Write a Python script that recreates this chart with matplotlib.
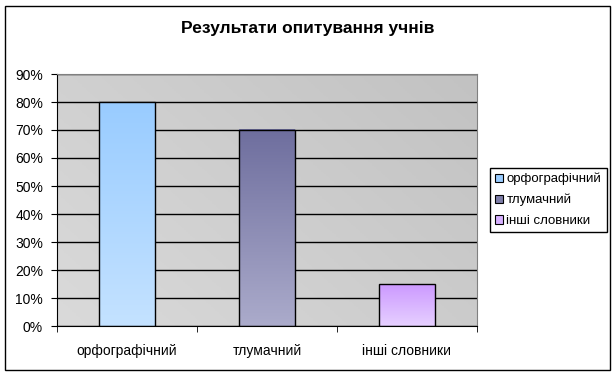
import numpy as np
import matplotlib.pyplot as plt
from matplotlib.patches import Patch, Rectangle
from matplotlib.colors import LinearSegmentedColormap

plt.rcParams['font.family'] = ['Liberation Sans', 'DejaVu Sans']

categories = ['орфографічний', 'тлумачний', 'інші словники']
values = [80, 70, 15]
title = 'Результати опитування учнів'

# gradient (top colour, bottom colour) and legend colour for each bar
grad = [('#99ccff', '#c4e2ff'), ('#6e6e9e', '#ababcb'), ('#cc99ff', '#e6d0ff')]
legend_cols = ['#99ccff', '#7d7da8', '#d6b0ff']

fig = plt.figure(figsize=(6.16, 3.76), dpi=100)
fig.patches.append(Rectangle((5 / 616, 6 / 376), 605 / 616, 364 / 376,
                             transform=fig.transFigure, fill=False,
                             edgecolor='black', linewidth=1))

ax = fig.add_axes([57 / 616, 50 / 376, 420 / 616, 252 / 376])
x = np.arange(len(categories))
ax.set_xlim(-0.5, len(categories) - 0.5)
ax.set_ylim(0, 90)

# grey plot area, lighter at bottom left, darker at top right
bg = LinearSegmentedColormap.from_list('bg', ['#dadada', '#c2c2c2'])
gx, gy = np.meshgrid(np.linspace(0, 1, 200), np.linspace(0, 1, 200))
ax.imshow((gx * 0.6 + gy * 0.4), cmap=bg, aspect='auto', origin='lower',
          extent=(-0.5, len(categories) - 0.5, 0, 90), zorder=0)

ax.set_yticks(np.arange(0, 91, 10))
ax.set_yticklabels([f'{v}%' for v in range(0, 91, 10)], fontsize=10)
ax.grid(axis='y', color='black', linewidth=1, zorder=1)
ax.set_xticks(x)
ax.set_xticklabels(categories, fontsize=10)
ax.set_xticks(np.arange(-0.5, len(categories), 1), minor=True)
ax.tick_params(axis='x', which='major', length=0, pad=13)
ax.tick_params(axis='x', which='minor', length=4, direction='out')
ax.tick_params(axis='y', length=4, direction='out', pad=6)

bars = ax.bar(x, values, width=0.4, color='none', edgecolor='black',
              linewidth=1, zorder=3)
for b, (top, bot) in zip(bars, grad):
    cm = LinearSegmentedColormap.from_list('g', [bot, top])
    x0, w, h = b.get_x(), b.get_width(), b.get_height()
    ax.imshow(np.linspace(0, 1, 256).reshape(-1, 1), cmap=cm, origin='lower',
              aspect='auto', extent=(x0, x0 + w, 0, h), zorder=2)

for s in ['top', 'right']:
    ax.spines[s].set_color('#808080')
for s in ['left', 'bottom']:
    ax.spines[s].set_color('black')

fig.text(308 / 616, 1 - 28 / 376, title, ha='center', va='center',
         fontsize=12.5, fontweight='bold')

handles = [Patch(facecolor=c, edgecolor='black', linewidth=0.8) for c in legend_cols]
leg = fig.legend(handles, categories, loc='center left',
                 bbox_to_anchor=(490 / 616, 1 - 200 / 376), fontsize=9.5,
                 handlelength=0.6, handleheight=0.6, handletextpad=0.25,
                 borderpad=0.4, borderaxespad=0, labelspacing=0.65,
                 fancybox=False, edgecolor='black', framealpha=1)
leg.get_frame().set_linewidth(1)

fig.savefig('out.png', dpi=100)
